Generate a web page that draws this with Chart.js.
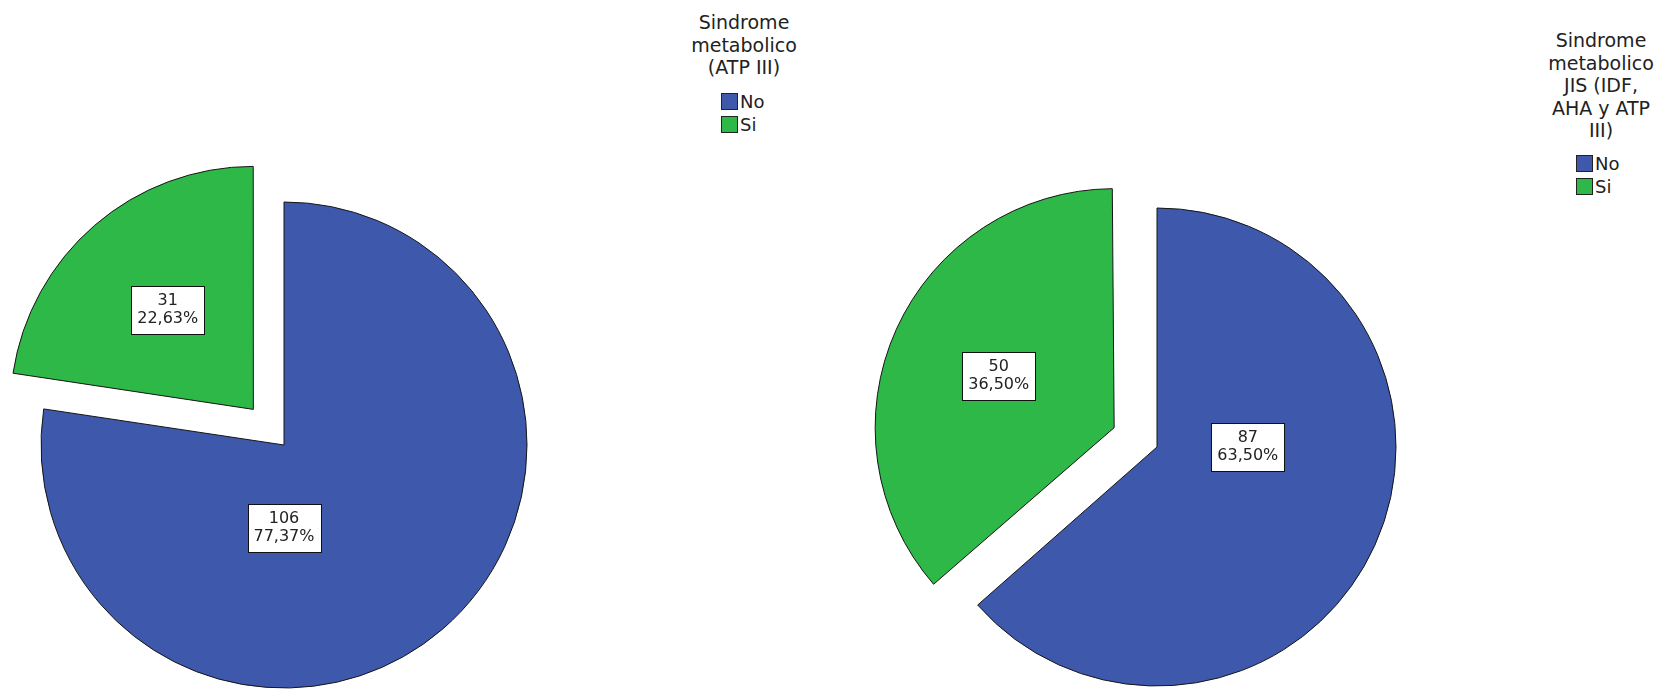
<!DOCTYPE html>
<html>
<head>
<meta charset="utf-8">
<script src="https://cdn.jsdelivr.net/npm/chart.js@4.4.1/dist/chart.umd.min.js"></script>
<style>
    html, body { margin: 0; padding: 0; background: #fff; }
    body { width: 1661px; height: 689px; overflow: hidden; position: relative; font-family: "DejaVu Sans", sans-serif; color: #222; }
    canvas { position: absolute; }
    .legend-title { position: absolute; width: 160px; text-align: center; font-size: 19px; line-height: 22.5px; }
    .legend-item { position: absolute; display: flex; align-items: center; font-size: 18px; line-height: 17px; white-space: nowrap; }
    .legend-item .box { width: 15px; height: 15px; border: 1px solid #222; margin-right: 2px; }
</style>
</head>
<body>
<canvas id="pieAtp" width="600" height="600" style="left:-16px; top:145px;"></canvas>
<canvas id="pieJis" width="600" height="600" style="left:857px; top:147px;"></canvas>
<div id="legendAtp"></div>
<div id="legendJis"></div>

<script>
// data
const categories = ['No', 'Si'];
const atpValues = [106, 31];
const jisValues = [87, 50];
const atpTitle = ['Sindrome', 'metabolico', '(ATP III)'];
const jisTitle = ['Sindrome', 'metabolico', 'JIS (IDF,', 'AHA y ATP', 'III)'];

const sliceColors = ['#3e58ac', '#2eb848'];
const explode = [0, 188]; // chart.js moves a slice by offset/4

// chart.js grows small-angle exploded slices a bit, undo that so radii stay equal
const offsetFix = {
    id: 'offsetFix',
    afterUpdate(chart) {
        chart.getDatasetMeta(0).data.forEach((arc, i) => {
            const off = (explode[i] || 0) / 4;
            const fix = 1 - Math.sin(Math.min(Math.PI, arc.circumference));
            arc.outerRadius -= off * fix;
        });
    }
};

const sliceLabels = {
    id: 'sliceLabels',
    afterDatasetsDraw(chart, args, opts) {
        const ctx = chart.ctx;
        const meta = chart.getDatasetMeta(0);
        const values = chart.data.datasets[0].data;
        const total = values.reduce((a, b) => a + b, 0);
        meta.data.forEach((arc, i) => {
            const spot = opts.spots[i];
            const off = (explode[i] || 0) / 4;
            const mid = (arc.startAngle + arc.endAngle) / 2;
            const cx = arc.x + Math.cos(mid) * off;
            const cy = arc.y + Math.sin(mid) * off;
            const ang = spot.angle == null ? mid : (spot.angle - 90) * Math.PI / 180;
            const x = cx + Math.cos(ang) * spot.r * opts.radius;
            const y = cy + Math.sin(ang) * spot.r * opts.radius;
            const lines = [String(values[i]), (values[i] / total * 100).toFixed(2).replace('.', ',') + '%'];

            ctx.save();
            ctx.font = '16px "DejaVu Sans"';
            const w = Math.round(Math.max(...lines.map(l => ctx.measureText(l).width)) + 12);
            const h = 48;
            const bx = Math.round(x - w / 2) + 0.5;
            const by = Math.round(y - h / 2) + 0.5;
            ctx.fillStyle = '#fff';
            ctx.fillRect(bx, by, w, h);
            ctx.strokeStyle = '#111';
            ctx.lineWidth = 1;
            ctx.strokeRect(bx, by, w, h);
            ctx.fillStyle = '#222';
            ctx.textAlign = 'center';
            ctx.textBaseline = 'middle';
            ctx.fillText(lines[0], x, y - 9);
            ctx.fillText(lines[1], x, y + 9);
            ctx.restore();
        });
    }
};

function makePie(canvasId, values, radius, spots) {
    const el = document.getElementById(canvasId);
    if (!el) return;
    return new Chart(el.getContext('2d'), {
        type: 'pie',
        data: {
            labels: categories,
            datasets: [{
                data: values,
                backgroundColor: sliceColors,
                borderColor: '#151515',
                borderWidth: 1,
                offset: explode,
                hoverOffset: 0
            }]
        },
        options: {
            responsive: false,
            animation: false,
            radius: radius,
            layout: { padding: 0 },
            events: [],
            plugins: {
                legend: { display: false },
                tooltip: { enabled: false },
                sliceLabels: { spots: spots, radius: radius }
            }
        },
        plugins: [offsetFix, sliceLabels]
    });
}

function makeLegend(holderId, titleLines, centerX, titleTop, boxLeft, itemTop) {
    const holder = document.getElementById(holderId);
    const title = document.createElement('div');
    title.className = 'legend-title';
    title.style.left = (centerX - 80) + 'px';
    title.style.top = titleTop + 'px';
    title.innerHTML = titleLines.join('<br>');
    holder.appendChild(title);
    categories.forEach((cat, i) => {
        const item = document.createElement('div');
        item.className = 'legend-item';
        item.style.left = boxLeft + 'px';
        item.style.top = (itemTop + i * 22.5) + 'px';
        const box = document.createElement('span');
        box.className = 'box';
        box.style.background = sliceColors[i];
        item.appendChild(box);
        item.appendChild(document.createTextNode(cat));
        holder.appendChild(item);
    });
}

makePie('pieAtp', atpValues, 243, [{ angle: 180, r: 0.34 }, { angle: null, r: 0.54 }]);
makePie('pieJis', jisValues, 239, [{ angle: 90, r: 0.38 }, { angle: null, r: 0.53 }]);

makeLegend('legendAtp', atpTitle, 744, 11, 721, 93);
makeLegend('legendJis', jisTitle, 1601, 29, 1576, 155);
</script>
</body>
</html>
